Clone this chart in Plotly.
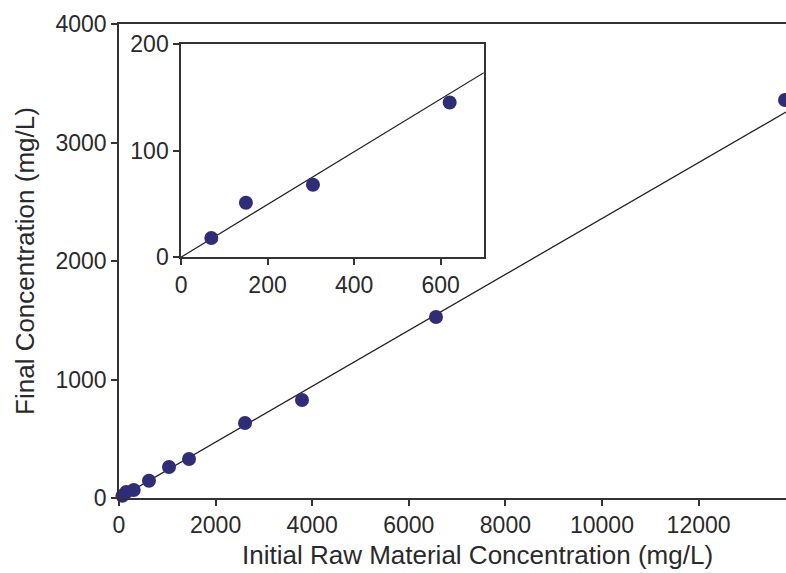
import plotly.graph_objects as go

# Main data (mg/L)
initial_conc = [70, 150, 305, 621, 1035, 1450, 2609, 3789, 6563, 13790]
final_conc = [18, 51, 68, 145, 262, 329, 633, 827, 1527, 3359]

# Fit lines
main_fit_x = [0, 13810]
main_fit_y = [0, 3257]
inset_fit_x = [0, 700]
inset_fit_y = [0, 173]

# Inset data (low-concentration range)
inset_x = [70, 150, 305, 621]
inset_y = [18, 51, 68, 145]

main_xticks = [0, 2000, 4000, 6000, 8000, 10000, 12000]
main_xlabels = ["0", "2000", "4000", "6000", "8000", "10000", "12000"]
main_yticks = [0, 1000, 2000, 3000, 4000]
main_ylabels = ["0", "1000", "2000", "3000", "4000"]
inset_xticks = [0, 200, 400, 600]
inset_yticks = [0, 100, 200]

x_title = "Initial Raw Material Concentration (mg/L)"
y_title = "Final Concentration (mg/L)"

marker_color = "#2f2d78"
axis_color = "#333333"
font_family = "Liberation Sans, Arial, sans-serif"

fig = go.Figure()

fig.add_trace(go.Scatter(x=main_fit_x, y=main_fit_y, mode="lines",
                         line=dict(color="#222222", width=1.3),
                         xaxis="x", yaxis="y", showlegend=False))
fig.add_trace(go.Scatter(x=initial_conc, y=final_conc, mode="markers",
                         marker=dict(color=marker_color, size=14),
                         xaxis="x", yaxis="y", showlegend=False, cliponaxis=False))

fig.add_trace(go.Scatter(x=inset_fit_x, y=inset_fit_y, mode="lines",
                         line=dict(color="#222222", width=1.2),
                         xaxis="x2", yaxis="y2", showlegend=False))
fig.add_trace(go.Scatter(x=inset_x, y=inset_y, mode="markers",
                         marker=dict(color=marker_color, size=14),
                         xaxis="x2", yaxis="y2", showlegend=False))

common_axis = dict(showgrid=False, zeroline=False, showline=True, linecolor=axis_color,
                   linewidth=1.5, ticks="outside", ticklen=6, tickwidth=1.5,
                   tickcolor=axis_color, tickfont=dict(size=23, color="#2a2a2a", family=font_family))

fig.update_layout(
    width=786, height=573,
    margin=dict(l=119, r=0, t=24, b=75),
    paper_bgcolor="white", plot_bgcolor="white",
    font=dict(family=font_family, color="#2a2a2a"),
    xaxis=dict(**common_axis, range=[0, 13810], tickvals=main_xticks, ticktext=main_xlabels,
               mirror=True, domain=[0, 1]),
    yaxis=dict(**common_axis, range=[0, 4000], tickvals=main_yticks, ticktext=main_ylabels,
               domain=[0, 1]),
    xaxis2=dict(**common_axis, range=[0, 700], tickvals=inset_xticks, mirror=True,
                anchor="y2", domain=[0.093, 0.547]),
    yaxis2=dict(**common_axis, range=[0, 200], tickvals=inset_yticks, mirror=True,
                anchor="x2", domain=[0.508, 0.958]),
    annotations=[
        dict(text=x_title, xref="paper", yref="paper", x=0.537, y=-0.12,
             xanchor="center", yanchor="middle", showarrow=False,
             font=dict(size=26, color="#2a2a2a", family=font_family)),
        dict(text=y_title, xref="paper", yref="paper", x=-0.141, y=0.5,
             xanchor="center", yanchor="middle", textangle=-90, showarrow=False,
             font=dict(size=26, color="#2a2a2a", family=font_family)),
    ],
)

fig.write_html("out.html")
